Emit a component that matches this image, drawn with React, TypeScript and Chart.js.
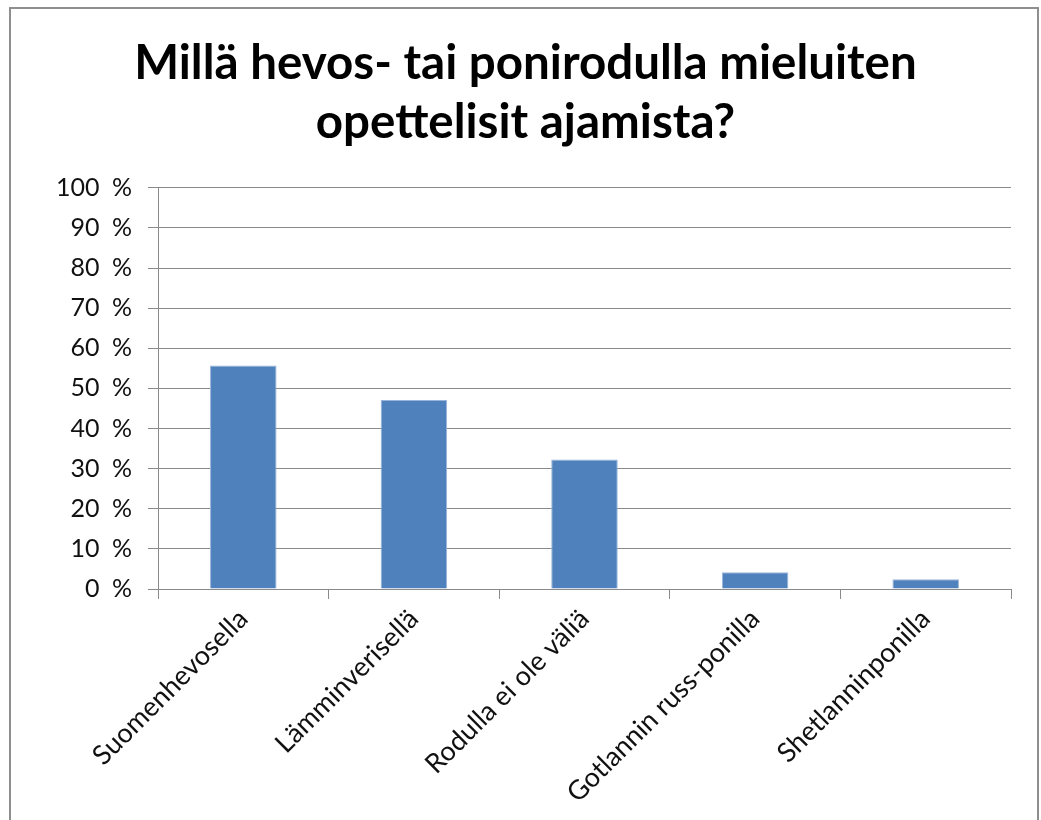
import React, { useEffect, useRef } from "react";
import { Chart, registerables } from "chart.js";

Chart.register(...registerables);

const titleLines = ["Millä hevos- tai ponirodulla mieluiten", "opettelisit ajamista?"];
const categories = [
  "Suomenhevosella",
  "Lämminverisellä",
  "Rodulla ei ole väliä",
  "Gotlannin russ-ponilla",
  "Shetlanninponilla",
];
const percentages = [55.7, 47.1, 32.3, 4.2, 2.4];
const yMin = 0;
const yMax = 100;
const yStep = 10;

export default function App() {
  const ref = useRef<HTMLCanvasElement>(null);

  useEffect(() => {
    if (!ref.current) return;
    const chart = new Chart(ref.current, {
      type: "bar",
      data: {
        labels: categories,
        datasets: [
          {
            data: percentages,
            backgroundColor: "#4F81BD",
            borderColor: "#9ab5da",
            borderWidth: 1,
            barPercentage: 0.39,
            categoryPercentage: 1,
          },
        ],
      },
      options: {
        animation: false,
        responsive: false,
        maintainAspectRatio: false,
        layout: { padding: { left: 40, right: 30, top: 0, bottom: 0 } },
        plugins: {
          legend: { display: false },
          tooltip: { enabled: false },
          title: {
            display: true,
            text: titleLines,
            color: "#000",
            font: { family: "Lato", size: 47.5, weight: "bold", lineHeight: 1.24 },
            padding: { top: 34, bottom: 36 },
          },
        },
        scales: {
          x: {
            afterFit: (s: any) => {
              s.height = 231;
            },
            grid: {
              offset: true,
              drawOnChartArea: false,
              drawTicks: true,
              tickLength: 10,
              color: "#8a8a8a",
            },
            border: { display: true, color: "#8a8a8a", width: 1 },
            ticks: {
              minRotation: 45,
              maxRotation: 45,
              autoSkip: false,
              color: "#111",
              padding: 4,
              font: { family: "Lato", size: 27 },
            },
          },
          y: {
            min: yMin,
            max: yMax,
            afterFit: (s: any) => {
              s.width = 118;
            },
            grid: {
              color: "#8a8a8a",
              tickLength: 10,
              drawTicks: true,
            },
            border: { display: true, color: "#8a8a8a", width: 1 },
            ticks: {
              stepSize: yStep,
              color: "#111",
              padding: 16,
              font: { family: "Lato", size: 25 },
              callback: (v: any) => `${v}\u2002%`,
            },
          },
        },
      },
    });
    return () => chart.destroy();
  }, []);

  return (
    <div style={{ position: "fixed", left: 0, top: 0, width: 1041, height: 820, background: "#fff" }}>
      <canvas ref={ref} width={1041} height={820} style={{ display: "block" }} />
      <div
        style={{
          position: "absolute",
          left: 9,
          top: 7,
          width: 1030,
          height: 900,
          boxSizing: "border-box",
          border: "2px solid #8e8e8e",
          pointerEvents: "none",
        }}
      />
    </div>
  );
}
